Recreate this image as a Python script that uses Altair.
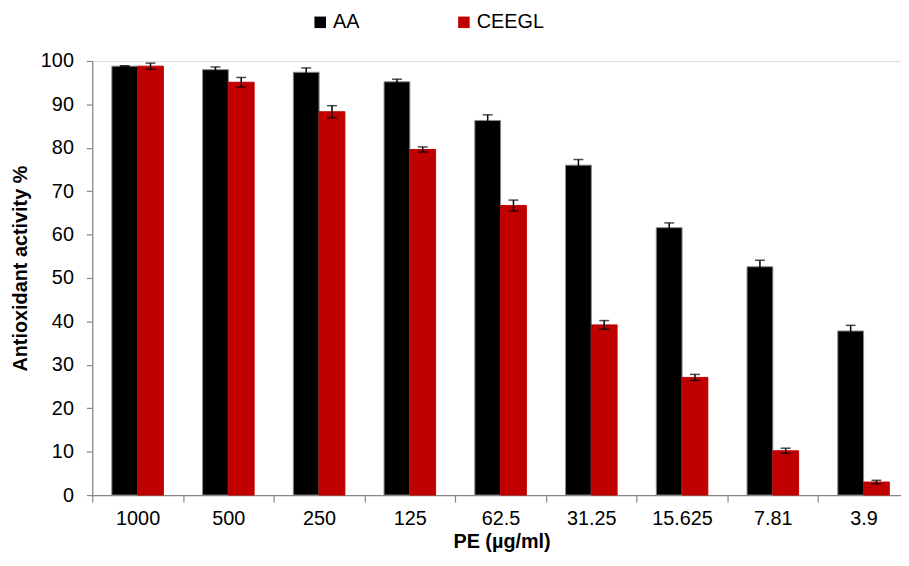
import altair as alt
import pandas as pd

categories = ["1000", "500", "250", "125", "62.5", "31.25", "15.625", "7.81", "3.9"]
series_names = ["AA", "CEEGL"]
aa_values = [98.8, 98.0, 97.4, 95.2, 86.3, 76.0, 61.6, 52.6, 37.8]
aa_errors = [0.1, 0.6, 1.0, 0.6, 1.3, 1.3, 1.1, 1.5, 1.3]
ceegl_values = [98.8, 95.1, 88.3, 79.6, 66.7, 39.2, 27.1, 10.2, 3.0]
ceegl_errors = [0.7, 1.1, 1.4, 0.6, 1.25, 1.0, 0.7, 0.6, 0.4]
colors = ["#000000", "#C00000"]

rows = []
for i, c in enumerate(categories):
    for s, vals, errs in (("AA", aa_values, aa_errors), ("CEEGL", ceegl_values, ceegl_errors)):
        rows.append({"cat": c, "series": s, "value": vals[i],
                     "lo": vals[i] - errs[i], "hi": vals[i] + errs[i]})
df = pd.DataFrame(rows)

FONT = "Liberation Sans"
AXIS_GRAY = "#868686"

x_enc = alt.X("cat:N", sort=categories,
              scale=alt.Scale(domain=categories, paddingInner=0, paddingOuter=0),
              axis=alt.Axis(title="PE  (µg/ml)", labelAngle=0, labelFontSize=20, labelFont=FONT,
                            labelColor="#000000", labelPadding=7, tickBand="extent", tickSize=7,
                            tickColor=AXIS_GRAY, domainColor=AXIS_GRAY, tickWidth=1.2, domainWidth=1.2,
                            titleFont=FONT, titleFontSize=20, titleFontWeight="bold",
                            titleColor="#000000", titleX=413, titleY=47, titleAlign="center",
                            titleBaseline="middle", titleAnchor="start"))
xo_enc = alt.XOffset("series:N", sort=series_names,
                     scale=alt.Scale(domain=series_names, paddingOuter=0.76, paddingInner=0))
y_scale = alt.Scale(domain=[0, 100], nice=False)

bars = alt.Chart(df).mark_bar(strokeWidth=1).encode(
    x=x_enc,
    xOffset=xo_enc,
    y=alt.Y("value:Q", scale=y_scale,
            axis=alt.Axis(title="Antioxidant activity %", values=list(range(0, 101, 10)),
                          grid=False, labelFontSize=20, labelFont=FONT, labelColor="#000000",
                          labelPadding=13, tickSize=6, tickColor=AXIS_GRAY, domainColor=AXIS_GRAY,
                          tickWidth=1.2, domainWidth=1.2,
                          titleFont=FONT, titleFontSize=20, titleFontWeight="bold",
                          titleColor="#000000", titleX=-72, titleY=209, titleAngle=270,
                          titleAlign="center", titleBaseline="middle", titleAnchor="start")),
    fill=alt.Fill("series:N", sort=series_names,
                  scale=alt.Scale(domain=series_names, range=colors),
                  legend=alt.Legend(title=None, orient="none", legendX=220, legendY=-49,
                                    direction="horizontal", symbolType="square", symbolSize=135,
                                    symbolStrokeWidth=0, labelFontSize=20, labelFont=FONT,
                                    labelColor="#000000", labelOffset=3, columnPadding=95,
                                    padding=0)),
    stroke=alt.Stroke("series:N", sort=series_names,
                      scale=alt.Scale(domain=series_names, range=["#8a8a8a", "#C00000"]),
                      legend=None),
)

err_rule = alt.Chart(df).mark_rule(color="#000000", strokeWidth=1.5).encode(
    x=alt.X("cat:N", sort=categories),
    xOffset=alt.XOffset("series:N", sort=series_names),
    y=alt.Y("lo:Q", scale=y_scale),
    y2="hi:Q",
)
cap_lo = alt.Chart(df).mark_tick(color="#000000", thickness=1.5, size=10).encode(
    x=alt.X("cat:N", sort=categories),
    xOffset=alt.XOffset("series:N", sort=series_names),
    y=alt.Y("lo:Q", scale=y_scale),
)
cap_hi = alt.Chart(df).mark_tick(color="#000000", thickness=1.5, size=10).encode(
    x=alt.X("cat:N", sort=categories),
    xOffset=alt.XOffset("series:N", sort=series_names),
    y=alt.Y("hi:Q", scale=y_scale),
)

chart = alt.layer(bars, err_rule, cap_lo, cap_hi).properties(
    width=824, height=438,
    autosize=alt.AutoSizeParams(type="none"),
    padding={"left": 85, "top": 51, "right": -8, "bottom": 56},
).configure_view(stroke=None).configure(background="#ffffff")

chart.save("out.html", embed_options={"renderer": "svg", "actions": False})
